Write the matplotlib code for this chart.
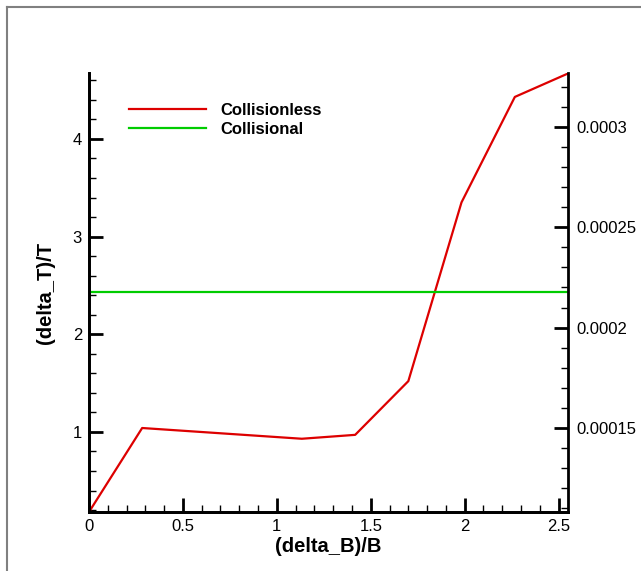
import matplotlib
matplotlib.use("Agg")
import matplotlib.pyplot as plt
from matplotlib.ticker import MultipleLocator, FixedLocator, FuncFormatter
from matplotlib.lines import Line2D

plt.rcParams['font.family'] = ['Liberation Sans', 'DejaVu Sans']

# data
db_b = [0.0, 0.283, 1.133, 1.417, 1.70, 1.983, 2.267, 2.55]
dt_collisionless = [0.18, 1.04, 0.93, 0.97, 1.52, 3.35, 4.43, 4.67]
db_b_coll = [0.0, 2.55]
dt_collisional = [0.0002175, 0.0002175]

xticks = [0, 0.5, 1, 1.5, 2, 2.5]
left_ticks = [1, 2, 3, 4]
right_ticks = [0.00015, 0.0002, 0.00025, 0.0003]

red = '#dd0000'
green = '#00cc00'

fig = plt.figure(figsize=(6.41, 5.71), dpi=100)
ax = fig.add_axes([89/641, 59/571, 479/641, 439/571])
ax2 = ax.twinx()

l1, = ax.plot(db_b, dt_collisionless, color=red, lw=1.6, label='Collisionless')
l2, = ax2.plot(db_b_coll, dt_collisional, color=green, lw=1.6, label='Collisional')

ax.set_xlim(0, 2.55)
ax.set_ylim(0.18, 4.675)
ax2.set_ylim(0.000108, 0.000327)

fmt = FuncFormatter(lambda v, p: '%g' % v)
ax.xaxis.set_major_locator(FixedLocator(xticks))
ax.xaxis.set_minor_locator(MultipleLocator(0.1))
ax.yaxis.set_major_locator(FixedLocator(left_ticks))
ax.yaxis.set_minor_locator(MultipleLocator(0.2))
ax2.yaxis.set_major_locator(FixedLocator(right_ticks))
ax2.yaxis.set_minor_locator(MultipleLocator(0.00001))
ax.xaxis.set_major_formatter(fmt)
ax.yaxis.set_major_formatter(fmt)
ax2.yaxis.set_major_formatter(fmt)

for a in (ax, ax2):
    a.spines['top'].set_visible(False)
    for s in ('left', 'right', 'bottom'):
        a.spines[s].set_linewidth(2)
ax.spines['right'].set_visible(False)

ax.tick_params(axis='both', which='major', direction='in', length=10, width=2,
               labelsize=12, pad=5)
ax.tick_params(axis='both', which='minor', direction='in', length=5, width=1)
ax.tick_params(axis='y', right=False, which='both')
ax2.tick_params(axis='y', which='major', direction='in', length=10, width=2,
                labelsize=12, pad=6)
ax2.tick_params(axis='y', which='minor', direction='in', length=5, width=1)

ax.set_xlabel('(delta_B)/B', fontsize=14.5, fontweight='bold', labelpad=2)
ax.set_ylabel('(delta_T)/T', fontsize=14.5, fontweight='bold', labelpad=13)

leg = ax.legend([l1, l2], ['Collisionless', 'Collisional'], loc='upper left',
                bbox_to_anchor=(0.07, 0.947), frameon=False,
                prop={'weight': 'bold', 'size': 12},
                handlelength=4.6, handletextpad=0.85, labelspacing=0.25,
                borderaxespad=0)

# outer frame (only left and top edges are inside the picture)
fx = 6.5 / 641
fy = 1 - 6.5 / 571
fig.add_artist(Line2D([fx, fx], [0, fy], transform=fig.transFigure,
                      color='#808080', lw=1.5))
fig.add_artist(Line2D([fx, 1], [fy, fy], transform=fig.transFigure,
                      color='#808080', lw=1.5))

fig.savefig('out.png', dpi=100)
